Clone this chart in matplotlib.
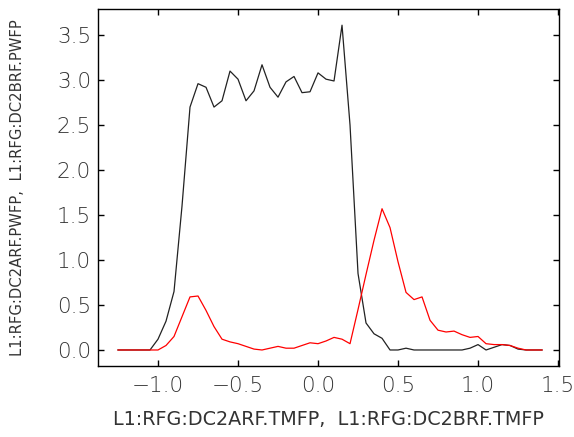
import matplotlib
matplotlib.use("Agg")
import matplotlib.pyplot as plt
import numpy as np

# time axis (TMFP) shared by both channels
tmfp = np.round(np.arange(-1.25, 1.401, 0.05), 2)

# L1:RFG:DC2ARF.PWFP (black)
pwfp_a = [0.0, 0.0, 0.0, 0.0, 0.0, 0.12, 0.32, 0.65, 1.6, 2.7,
          2.96, 2.92, 2.70, 2.77, 3.10, 3.01, 2.77, 2.88, 3.17, 2.92,
          2.81, 2.98, 3.04, 2.86, 2.87, 3.08, 3.01, 2.99, 3.61, 2.5,
          0.85, 0.30, 0.18, 0.13, 0.0, 0.0, 0.02, 0.0, 0.0, 0.0,
          0.0, 0.0, 0.0, 0.0, 0.02, 0.06, 0.0, 0.03, 0.06, 0.05,
          0.01, 0.0, 0.0, 0.0]

# L1:RFG:DC2BRF.PWFP (red)
pwfp_b = [0.0, 0.0, 0.0, 0.0, 0.0, 0.0, 0.05, 0.15, 0.37, 0.59,
          0.60, 0.44, 0.26, 0.12, 0.09, 0.07, 0.04, 0.01, 0.0, 0.02,
          0.04, 0.02, 0.02, 0.05, 0.08, 0.07, 0.10, 0.14, 0.12, 0.07,
          0.45, 0.84, 1.22, 1.57, 1.36, 0.98, 0.64, 0.56, 0.59, 0.33,
          0.22, 0.20, 0.21, 0.17, 0.14, 0.15, 0.07, 0.06, 0.06, 0.05,
          0.02, 0.0, 0.0, 0.0]

xticks = [-1.0, -0.5, 0.0, 0.5, 1.0, 1.5]
yticks = [0.0, 0.5, 1.0, 1.5, 2.0, 2.5, 3.0, 3.5]

plt.rcParams['font.family'] = 'DejaVu Sans'

fig = plt.figure(figsize=(5.74, 4.37), dpi=100)
ax = fig.add_axes([98/574, 71/437, 461/574, 357/437])

ax.plot(tmfp, pwfp_a, color='#222222', lw=0.9)
ax.plot(tmfp, pwfp_b, color='red', lw=0.9)

ax.set_xlim(-1.375, 1.506)
ax.set_ylim(-0.178, 3.79)
ax.set_xticks(xticks)
ax.set_yticks(yticks)
ax.set_xticklabels(["%.1f" % v if v >= 0 else "\u2212%.1f" % -v for v in xticks])
ax.set_yticklabels(["%.1f" % v for v in yticks])
ax.tick_params(direction='in', top=True, right=True, length=4, width=1,
               labelsize=15.5, colors='black')
for lab in ax.get_xticklabels() + ax.get_yticklabels():
    lab.set_fontweight('light')
    lab.set_color('#333333')
ax.tick_params(axis='x', pad=7)
ax.tick_params(axis='y', pad=5)
for s in ax.spines.values():
    s.set_linewidth(1)

ax.set_xlabel("L1:RFG:DC2ARF.TMFP,  L1:RFG:DC2BRF.TMFP", fontsize=13.8, color='#333333')
ax.xaxis.set_label_coords(0.5, -0.123)
ax.set_ylabel("L1:RFG:DC2ARF.PWFP,  L1:RFG:DC2BRF.PWFP", fontsize=10.6, color='#333333')
ax.yaxis.set_label_coords(-0.158, 0.5)

fig.savefig("out.png", dpi=100)
